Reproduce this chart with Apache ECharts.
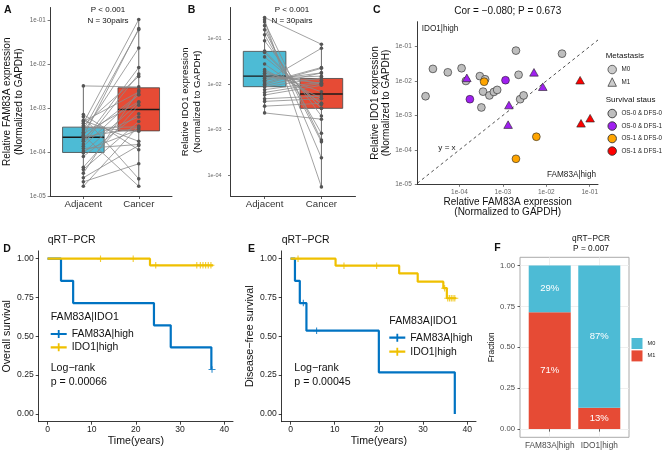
<!DOCTYPE html>
<html><head><meta charset="utf-8">
<script src="https://cdn.jsdelivr.net/npm/echarts@6/dist/echarts.min.js"></script>
<style>html,body{margin:0;padding:0;background:#fff}#c{width:669px;height:453px}</style>
</head><body><div id="c"></div>
<script>
const FONT = '"Liberation Sans", Arial, Helvetica, sans-serif';

// ---------- Panels A, B, C : 30 paired samples (patient order) ----------
const pairGroups = ['Adjacent', 'Cancer'];
const fam83aAdjacent = [2.4e-4, 6.3e-4, 2.1e-5, 7.1e-4, 2.6e-5, 3.7e-4, 1.66e-5, 2.2e-4, 1.05e-4, 4.0e-5,
  1.9e-4, 7.9e-5, 1.35e-4, 4.9e-4, 3.3e-5, 3.16e-3, 2.8e-4, 5.2e-4, 4.5e-5, 1.2e-4,
  2.6e-4, 4.0e-4, 1.74e-4, 9.5e-5, 3.55e-4, 1.51e-4, 2.1e-4, 3.16e-4, 2.24e-4, 4.5e-4];
const fam83aCancer = [1.66e-5, 2.45e-5, 5.4e-5, 1.12e-4, 1.41e-4, 2.95e-4, 3.9e-4, 3.5e-4, 3.2e-4, 4.9e-4,
  6.2e-4, 7.4e-4, 2.0e-3, 2.3e-3, 2.5e-3, 3.0e-3, 2.3e-2, 1.74e-4, 1.15e-3, 1.48e-4,
  1.38e-3, 5.2e-3, 8.3e-3, 1.32e-3, 3.7e-4, 5.9e-3, 2.0e-3, 6.0e-2, 6.3e-2, 1.02e-1];
const ido1Adjacent = [4.0e-2, 1.0e-2, 9.3e-3, 1.07e-2, 1.74e-2, 8.7e-3, 7.6e-3, 2.1e-2, 2.34e-3, 3.3e-3,
  4.2e-3, 4.8e-3, 2.95e-1, 1.35e-2, 5.4e-2, 2.8e-2, 1.15e-2, 5.0e-2, 6.6e-3, 1.45e-2,
  9.1e-2, 1.23e-2, 1.9e-2, 1.58e-1, 5.8e-3, 1.95e-1, 2.63e-1, 1.58e-2, 2.34e-1, 1.23e-1];
const ido1Cancer = [3.6e-3, 2.24e-2, 1.78e-2, 2.34e-2, 1.0e-2, 1.38e-2, 1.12e-2, 4.9e-3, 1.70e-3, 3.8e-3,
  4.8e-3, 5.5e-3, 7.6e-2, 1.51e-2, 2.95e-3, 3.8e-3, 6.2e-2, 2.95e-3, 1.05e-2, 1.23e-2,
  2.0e-3, 1.78e-2, 6.8e-3, 5.4e-4, 9.5e-3, 2.4e-4, 5.5e-5, 1.05e-2, 5.9e-4, 8.3e-4];
const metastasis = ['M0','M0','M0','M0','M0','M0','M0','M0','M0','M0',
  'M0','M0','M0','M0','M0','M0','M0','M0','M0','M1',
  'M1','M1','M1','M1','M0','M0','M0','M1','M1','M1'];
const survivalStatus = [0,0,0,0,0,0,0,0,0,0, 0,0,0,0,0,0,0,1,1,1, 1,1,1,1,2,2,2,3,3,3];
const survivalLevels = ['OS-0 & DFS-0', 'OS-0 & DFS-1', 'OS-1 & DFS-0', 'OS-1 & DFS-1'];
const survivalColors = ['#BEBEBE', '#A020F0', '#FFA500', '#FF0000'];
const logTickValues = [1e-5, 1e-4, 1e-3, 1e-2, 1e-1];

// ---------- Panels D, E : Kaplan-Meier steps (time in years, survival) ----------
const kmGroups = ['FAM83A|high', 'IDO1|high'];
const osFamTime = [0, 3.05, 5.8, 24.1, 27.9, 37.1, 37.25];
const osFamSurv = [1, 0.857, 0.714, 0.571, 0.429, 0.286, 0.286];
const osFamCensor = [37.25];
const osIdoTime = [0, 23.2, 37.5];
const osIdoSurv = [1, 0.957, 0.957];
const osIdoCensor = [12.0, 19.4, 24.5, 33.8, 34.6, 35.2, 35.8, 36.4, 37.0];
const dfsFamTime = [0, 1.0, 2.1, 3.6, 20.0, 37.2];
const dfsFamSurv = [1, 0.857, 0.714, 0.536, 0.268, 0];
const dfsFamCensor = [2.9, 5.9];
const dfsIdoTime = [0, 10.2, 24.6, 28.8, 34.6, 35.4, 37.5];
const dfsIdoSurv = [1, 0.955, 0.905, 0.852, 0.81, 0.745, 0.745];
const dfsIdoCensor = [1.7, 12.1, 19.5, 34.9, 35.6, 36.0, 36.4, 36.8, 37.2];
const kmTicksX = [0, 10, 20, 30, 40];
const kmTicksY = [0, 0.25, 0.5, 0.75, 1];

// ---------- Panel F : metastasis by group ----------
const fGroups = ['FAM83A|high', 'IDO1|high'];
const fCountM0 = [2, 20];
const fCountM1 = [5, 3];

// ---------- helpers ----------
const lg = v => Math.log10(v);
const BLUE_KM = '#0073C2', YELLOW_KM = '#EFC000';
const NPG_BLUE = '#4DBBD5', NPG_RED = '#E64B35';
function quantile(s, p) { const h = (s.length - 1) * p, lo = Math.floor(h); const hi = Math.min(lo + 1, s.length - 1); return s[lo] + (h - lo) * (s[hi] - s[lo]); }
function boxStats(vals) { const s = vals.map(lg).sort((a, b) => a - b); return [s[0], quantile(s, .25), quantile(s, .5), quantile(s, .75), s[s.length - 1]]; }
function stepAt(times, surv, t) { let v = surv[0]; for (let i = 0; i < times.length; i++) { if (times[i] <= t) v = surv[i]; } return v; }
const sciLabel = v => '1e-' + String(Math.round(-v)).padStart(2, '0');
const PLUS = 'path://M-0.16,-1H0.16V-0.16H1V0.16H0.16V1H-0.16V0.16H-1V-0.16H-0.16Z';
const KEY = 'path://M0,2.9H16V5.1H0Z M7.1,0H8.9V8H7.1Z';

function renderBox(params, api) {
  const x = api.value(0), mn = api.value(1), q1 = api.value(2), md = api.value(3), q3 = api.value(4), mx = api.value(5);
  const half = 0.375;
  const tl = api.coord([x - half, q3]), br = api.coord([x + half, q1]);
  const top = api.coord([x, mx]), cq3 = api.coord([x, q3]), cq1 = api.coord([x, q1]), bot = api.coord([x, mn]);
  const ml = api.coord([x - half, md]), mr = api.coord([x + half, md]);
  return { type: 'group', children: [
    { type: 'line', shape: { x1: top[0], y1: top[1], x2: cq3[0], y2: cq3[1] }, style: { stroke: '#444', lineWidth: 0.8 } },
    { type: 'line', shape: { x1: cq1[0], y1: cq1[1], x2: bot[0], y2: bot[1] }, style: { stroke: '#444', lineWidth: 0.8 } },
    { type: 'rect', shape: { x: tl[0], y: tl[1], width: br[0] - tl[0], height: br[1] - tl[1] }, style: { fill: api.visual('color'), stroke: '#444', lineWidth: 0.8 } },
    { type: 'line', shape: { x1: ml[0], y1: ml[1], x2: mr[0], y2: mr[1] }, style: { stroke: '#1a1a1a', lineWidth: 1.4 } }
  ]};
}

function renderStackBar(params, api) {
  const x = api.value(0), y0 = api.value(1), y1 = api.value(2);
  const half = 0.424;
  const tl = api.coord([x - half, y1]), br = api.coord([x + half, y0]);
  const c = api.coord([x, (y0 + y1) / 2]);
  return { type: 'group', children: [
    { type: 'rect', shape: { x: tl[0], y: tl[1], width: br[0] - tl[0], height: br[1] - tl[1] }, style: { fill: api.visual('color') } },
    { type: 'text', x: c[0], y: c[1], style: { text: Math.round((y1 - y0) * 100) + '%', fill: '#fff', fontSize: 9.5, fontFamily: FONT, align: 'center', verticalAlign: 'middle' } }
  ]};
}

function pairedSeries(idx, adj, can) {
  const statsA = boxStats(adj), statsC = boxStats(can);
  return [
    { type: 'custom', xAxisIndex: idx, yAxisIndex: idx, renderItem: renderBox, encode: { x: 0, y: [1, 2, 3, 4, 5] }, z: 2, silent: true,
      data: [{ value: [1].concat(statsA), itemStyle: { color: NPG_BLUE } }, { value: [2].concat(statsC), itemStyle: { color: NPG_RED } }] },
    { type: 'lines', coordinateSystem: 'cartesian2d', xAxisIndex: idx, yAxisIndex: idx, z: 3, silent: true,
      lineStyle: { color: '#8a8a8a', width: 0.8, opacity: 1 },
      data: adj.map((v, i) => ({ coords: [[1, lg(v)], [2, lg(can[i])]] })) },
    { type: 'scatter', xAxisIndex: idx, yAxisIndex: idx, z: 4, silent: true, symbolSize: 3.6,
      itemStyle: { color: '#555', opacity: 1 },
      data: adj.map(v => [1, lg(v)]).concat(can.map(v => [2, lg(v)])) }
  ];
}

function axisCommon(extra) {
  return Object.assign({
    type: 'value',
    axisLine: { show: true, onZero: false, lineStyle: { color: '#222', width: 0.9 } },
    splitLine: { show: false }
  }, extra);
}

const xAxes = [
  axisCommon({ gridIndex: 0, min: 0.4, max: 2.6,
    axisTick: { show: true, customValues: [1, 2], length: 3, lineStyle: { color: '#333', width: 0.8 } },
    axisLabel: { customValues: [1, 2], formatter: v => pairGroups[Math.round(v) - 1], fontSize: 9.7, color: '#333', margin: 3, fontFamily: FONT } }),
  axisCommon({ gridIndex: 1, min: 0.4, max: 2.6,
    axisTick: { show: true, customValues: [1, 2], length: 3, lineStyle: { color: '#333', width: 0.8 } },
    axisLabel: { customValues: [1, 2], formatter: v => pairGroups[Math.round(v) - 1], fontSize: 9.7, color: '#333', margin: 3, fontFamily: FONT } }),
  axisCommon({ gridIndex: 2, min: -4.97, max: -0.81,
    axisTick: { show: true, customValues: [-4, -3, -2, -1], length: 2.5, lineStyle: { color: '#555', width: 0.8 } },
    axisLabel: { customValues: logTickValues.map(lg).filter(v => v >= -4.97), formatter: sciLabel, fontSize: 6.5, color: '#666', margin: 4.5, fontFamily: FONT },
    name: 'Relative FAM83A expression\n(Normalized to GAPDH)', nameLocation: 'middle', nameGap: 12,
    nameTextStyle: { fontSize: 10, lineHeight: 10.5, color: '#111', fontFamily: FONT } }),
  axisCommon({ gridIndex: 3, min: -2, max: 42,
    axisTick: { show: true, customValues: kmTicksX, length: 3, lineStyle: { color: '#111', width: 0.8 } },
    axisLabel: { customValues: kmTicksX, fontSize: 8.6, color: '#222', margin: 3.5, fontFamily: FONT },
    name: 'Time(years)', nameLocation: 'middle', nameGap: 10.5, nameTextStyle: { fontSize: 10.6, color: '#111', fontFamily: FONT } }),
  axisCommon({ gridIndex: 4, min: -2, max: 42,
    axisTick: { show: true, customValues: kmTicksX, length: 3, lineStyle: { color: '#111', width: 0.8 } },
    axisLabel: { customValues: kmTicksX, fontSize: 8.6, color: '#222', margin: 3.5, fontFamily: FONT },
    name: 'Time(years)', nameLocation: 'middle', nameGap: 10.5, nameTextStyle: { fontSize: 10.6, color: '#111', fontFamily: FONT } }),
  { gridIndex: 5, type: 'value', min: 0.4, max: 2.6,
    axisLine: { show: false },
    axisTick: { show: true, customValues: [1, 2], length: 2.5, lineStyle: { color: '#333', width: 0.8 } },
    axisLabel: { customValues: [1, 2], formatter: v => fGroups[Math.round(v) - 1], fontSize: 8.3, color: '#4D4D4D', margin: 4, fontFamily: FONT },
    splitLine: { show: true, lineStyle: { color: '#EBEBEB', width: 0.8 } } }
];

const yAxes = [
  axisCommon({ gridIndex: 0, min: -5, max: -0.72,
    axisTick: { show: true, customValues: logTickValues.map(lg), length: 2.5, lineStyle: { color: '#555', width: 0.8 } },
    axisLabel: { customValues: logTickValues.map(lg), formatter: sciLabel, fontSize: 6.3, color: '#666', margin: 4.3, fontFamily: FONT },
    name: 'Relative FAM83A expression\n(Normalized to GAPDH)', nameLocation: 'middle', nameGap: 20,
    nameTextStyle: { fontSize: 10, lineHeight: 12.4, color: '#111', fontFamily: FONT } }),
  axisCommon({ gridIndex: 1, min: -4.46, max: -0.31,
    axisTick: { show: true, customValues: logTickValues.map(lg).filter(v => v >= -4.46), length: 2.5, lineStyle: { color: '#555', width: 0.8 } },
    axisLabel: { customValues: logTickValues.map(lg).filter(v => v >= -4.46), formatter: sciLabel, fontSize: 5.5, color: '#666', margin: 9, fontFamily: FONT },
    name: 'Relative IDO1 expression\n(Normalized to GAPDH)', nameLocation: 'middle', nameGap: 21,
    nameTextStyle: { fontSize: 9.6, lineHeight: 12.3, color: '#111', fontFamily: FONT } }),
  axisCommon({ gridIndex: 2, min: -5, max: -0.28,
    axisTick: { show: true, customValues: logTickValues.map(lg), length: 2.5, lineStyle: { color: '#555', width: 0.8 } },
    axisLabel: { customValues: logTickValues.map(lg), formatter: sciLabel, fontSize: 6.5, color: '#666', margin: 5.5, fontFamily: FONT },
    name: 'Relative IDO1 expression\n(Normalized to GAPDH)', nameLocation: 'middle', nameGap: 22,
    nameTextStyle: { fontSize: 10, lineHeight: 10.7, color: '#111', fontFamily: FONT } }),
  axisCommon({ gridIndex: 3, min: -0.05, max: 1.05,
    axisTick: { show: true, customValues: kmTicksY, length: 3, lineStyle: { color: '#111', width: 0.8 } },
    axisLabel: { customValues: kmTicksY, formatter: v => v.toFixed(2), fontSize: 8.6, color: '#222', margin: 5, fontFamily: FONT },
    name: 'Overall survival', nameLocation: 'middle', nameGap: 23, nameTextStyle: { fontSize: 10.6, color: '#111', fontFamily: FONT } }),
  axisCommon({ gridIndex: 4, min: -0.05, max: 1.05,
    axisTick: { show: true, customValues: kmTicksY, length: 3, lineStyle: { color: '#111', width: 0.8 } },
    axisLabel: { customValues: kmTicksY, formatter: v => v.toFixed(2), fontSize: 8.6, color: '#222', margin: 5, fontFamily: FONT },
    name: 'Disease\u2212free survival', nameLocation: 'middle', nameGap: 24.5, nameTextStyle: { fontSize: 10.6, color: '#111', fontFamily: FONT } }),
  { gridIndex: 5, type: 'value', min: -0.05, max: 1.05,
    axisLine: { show: false },
    axisTick: { show: true, customValues: kmTicksY, length: 2.5, lineStyle: { color: '#333', width: 0.8 } },
    axisLabel: { customValues: kmTicksY, formatter: v => v.toFixed(2), fontSize: 7.7, color: '#4D4D4D', margin: 5, fontFamily: FONT },
    splitLine: { show: true, lineStyle: { color: '#EBEBEB', width: 0.8 } },
    name: 'Fraction', nameLocation: 'middle', nameGap: 22.5, nameTextStyle: { fontSize: 8.3, color: '#111', fontFamily: FONT } }
];

const grids = [
  { left: 46, top: 7.5, width: 126, height: 188.5 },
  { left: 230.5, top: 7.5, width: 125, height: 188.5 },
  { left: 417.3, top: 21.7, width: 180.7, height: 162.6 },
  { left: 38.7, top: 250.9, width: 194.3, height: 170.8 },
  { left: 281.7, top: 250.9, width: 194.3, height: 170.8 },
  { left: 520, top: 257.3, width: 109, height: 180, show: true, borderColor: '#AAAAAA', borderWidth: 1, backgroundColor: '#fff' }
];

const series = [];
pairedSeries(0, fam83aAdjacent, fam83aCancer).forEach(s => series.push(s));
pairedSeries(1, ido1Adjacent, ido1Cancer).forEach(s => series.push(s));

// Panel C : y = x reference line across the panel
const cXMin = xAxes[2].min, cXMax = xAxes[2].max;
series.push({ type: 'line', xAxisIndex: 2, yAxisIndex: 2, silent: true, symbol: 'none', z: 2,
  lineStyle: { color: '#222', width: 0.8, type: [3, 3] }, data: [[cXMin, cXMin], [cXMax, cXMax]] });
survivalLevels.forEach((lev, k) => {
  const data = [];
  fam83aCancer.forEach((v, i) => {
    if (survivalStatus[i] !== k) return;
    const tri = metastasis[i] === 'M1';
    data.push({ value: [lg(v), lg(ido1Cancer[i])], symbol: tri ? 'triangle' : 'circle', symbolSize: tri ? [8.6, 7.6] : 7.8 });
  });
  series.push({ type: 'scatter', name: lev, xAxisIndex: 2, yAxisIndex: 2, z: 5, symbol: 'circle', symbolSize: 7.8,
    itemStyle: { color: survivalColors[k], borderColor: '#222', borderWidth: 0.6, opacity: 1 }, data });
});
['M0', 'M1'].forEach(m => series.push({ type: 'scatter', name: 'Metastasis ' + m, xAxisIndex: 2, yAxisIndex: 2,
  symbol: m === 'M0' ? 'circle' : 'triangle', itemStyle: { color: '#BEBEBE', borderColor: '#222', borderWidth: 0.6 }, data: [] }));

// Panels D, E : Kaplan-Meier curves
function kmSeries(idx, famT, famS, famC, idoT, idoS, idoC) {
  const curves = [[famT, famS, famC, BLUE_KM], [idoT, idoS, idoC, YELLOW_KM]];
  curves.forEach((c, g) => {
    series.push({ type: 'line', name: kmGroups[g], xAxisIndex: idx, yAxisIndex: idx, step: 'end', symbol: 'none', z: 3 + g,
      lineStyle: { color: c[3], width: 2.2 }, itemStyle: { color: c[3] }, silent: true,
      data: c[0].map((t, i) => [t, c[1][i]]) });
    series.push({ type: 'scatter', name: kmGroups[g], xAxisIndex: idx, yAxisIndex: idx, symbol: PLUS, symbolSize: [7, 6.5], z: 5 + g,
      itemStyle: { color: c[3] }, silent: true, data: c[2].map(t => [t, stepAt(c[0], c[1], t)]) });
  });
}
kmSeries(3, osFamTime, osFamSurv, osFamCensor, osIdoTime, osIdoSurv, osIdoCensor);
kmSeries(4, dfsFamTime, dfsFamSurv, dfsFamCensor, dfsIdoTime, dfsIdoSurv, dfsIdoCensor);

// Panel F : stacked fractions (M1 at bottom, M0 on top)
const fTotals = fCountM0.map((v, i) => v + fCountM1[i]);
const fM1Frac = fCountM1.map((c, i) => c / fTotals[i]);
series.push({ type: 'custom', name: 'M1', xAxisIndex: 5, yAxisIndex: 5, renderItem: renderStackBar, encode: { x: 0, y: [1, 2] },
  itemStyle: { color: NPG_RED }, silent: true, z: 3, data: fM1Frac.map((f, i) => [i + 1, 0, f]) });
series.push({ type: 'custom', name: 'M0', xAxisIndex: 5, yAxisIndex: 5, renderItem: renderStackBar, encode: { x: 0, y: [1, 2] },
  itemStyle: { color: NPG_BLUE }, silent: true, z: 3, data: fM1Frac.map((f, i) => [i + 1, f, f + fCountM0[i] / fTotals[i]]) });

function txt(x, y, text, size, o) {
  return { type: 'text', x, y, silent: true, z: 100,
    style: Object.assign({ text, fontSize: size, fontFamily: FONT, fill: '#111', align: 'left', verticalAlign: 'middle' }, o || {}) };
}
const B = { fontWeight: 'bold' };
const CEN = { align: 'center' };
const graphics = [
  txt(4, 10.5, 'A', 10.5, B), txt(187.7, 10.5, 'B', 10.5, B), txt(373, 10.5, 'C', 10.5, B),
  txt(3.3, 249, 'D', 10.5, B), txt(248, 249, 'E', 10.5, B), txt(494.3, 248.3, 'F', 10.5, B),
  txt(108, 10, 'P < 0.001', 8, CEN), txt(108, 20.7, 'N = 30pairs', 8, CEN),
  txt(292, 10, 'P < 0.001', 8, CEN), txt(292, 20.7, 'N = 30pairs', 8, CEN),
  txt(507.7, 11.7, 'Cor = \u22120.080; P = 0.673', 10, CEN),
  txt(421.7, 29, 'IDO1|high', 8.2, { fill: '#222' }),
  txt(596, 175, 'FAM83A|high', 8.2, { align: 'right', fill: '#222' }),
  txt(447, 147.7, 'y = x', 8.1, { align: 'center', fill: '#222' }),
  txt(605.7, 55.7, 'Metastasis', 8), txt(605.7, 99.3, 'Survival staus', 8),
  txt(47.7, 240, 'qRT\u2212PCR', 10.5), txt(281.7, 240, 'qRT\u2212PCR', 10.5),
  txt(50.7, 316.7, 'FAM83A|IDO1', 10.6), txt(389.3, 320.7, 'FAM83A|IDO1', 10.6),
  txt(50.7, 368.3, 'Log\u2212rank', 10.6), txt(50.7, 382.3, 'p = 0.00066', 10.6),
  txt(294.3, 368.3, 'Log\u2212rank', 10.6), txt(294.3, 382.3, 'p = 0.00045', 10.6),
  txt(591, 238.3, 'qRT\u2212PCR', 8.3, CEN), txt(591, 248.3, 'P = 0.007', 8.3, CEN)
];

const legendText = { fontSize: 6.3, color: '#222', fontFamily: FONT, lineHeight: 9.5 };
const legendItemStyle = { borderWidth: 0.9, borderColor: '#333' };
const legends = [
  { orient: 'vertical', left: 607.5, top: 64.8, padding: 0, itemGap: 3, itemWidth: 8.5, itemHeight: 8.5, itemStyle: legendItemStyle,
    data: [{ name: 'Metastasis M0', icon: 'circle' }, { name: 'Metastasis M1', icon: 'triangle' }],
    formatter: n => n.replace('Metastasis ', ''), textStyle: legendText, selectedMode: false },
  { orient: 'vertical', left: 607.5, top: 108.8, padding: 0, itemGap: 3, itemWidth: 8.5, itemHeight: 8.5, itemStyle: legendItemStyle,
    data: survivalLevels.map(n => ({ name: n, icon: 'circle' })), textStyle: legendText, selectedMode: false },
  { orient: 'vertical', left: 50.7, top: 328, padding: 0, itemGap: 1.3, itemWidth: 16, itemHeight: 8,
    data: kmGroups.map(n => ({ name: n, icon: KEY })), textStyle: { fontSize: 10.4, color: '#111', fontFamily: FONT, lineHeight: 12 }, selectedMode: false },
  { orient: 'vertical', left: 389.3, top: 331.7, padding: 0, itemGap: 2, itemWidth: 16, itemHeight: 8,
    data: kmGroups.map(n => ({ name: n, icon: KEY })), textStyle: { fontSize: 10.4, color: '#111', fontFamily: FONT, lineHeight: 12 }, selectedMode: false },
  { orient: 'vertical', left: 631.5, top: 338, padding: 0, itemGap: 1.4, itemWidth: 11, itemHeight: 11,
    data: [{ name: 'M0', icon: 'rect' }, { name: 'M1', icon: 'rect' }], textStyle: { fontSize: 5.6, color: '#222', fontFamily: FONT, lineHeight: 11 }, selectedMode: false }
];

const chart = echarts.init(document.getElementById('c'), null, { renderer: 'canvas' });
chart.setOption({
  backgroundColor: '#fff',
  animation: false,
  textStyle: { fontFamily: FONT },
  grid: grids, xAxis: xAxes, yAxis: yAxes, series, legend: legends, graphic: graphics
});
</script></body></html>
